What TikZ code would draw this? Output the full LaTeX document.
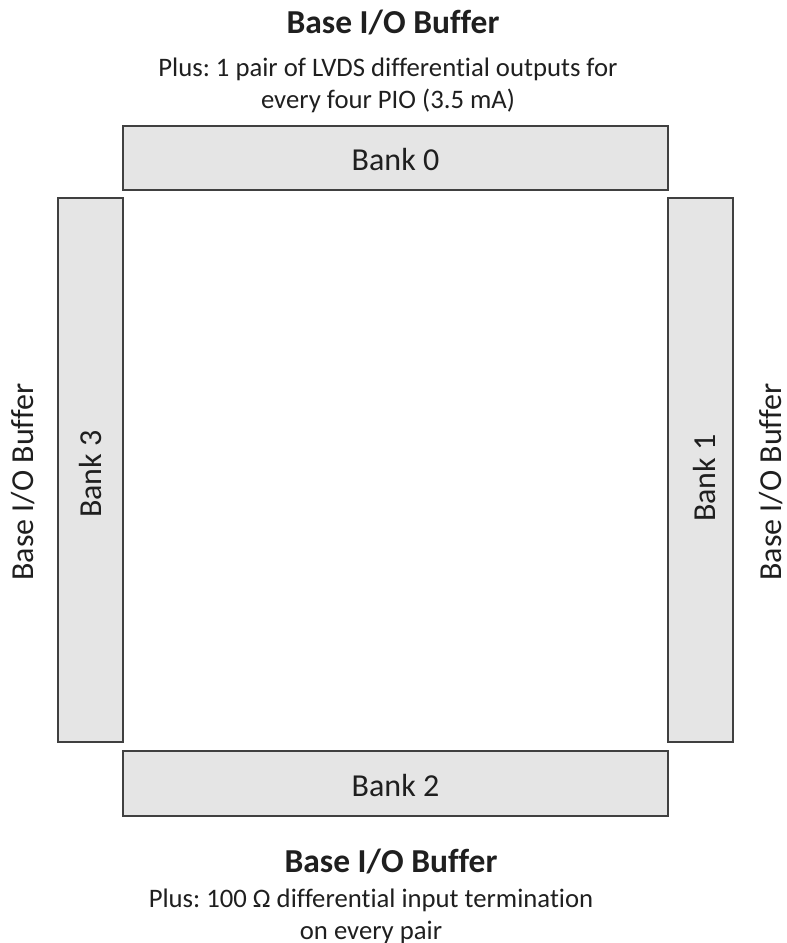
\documentclass[tikz,border=0pt]{standalone}
\usepackage{fontspec}
\setmainfont{Carlito}[Ligatures={NoCommon}]
\frenchspacing
\begin{document}
\begin{tikzpicture}[x=1pt,y=-1pt,
  bank/.style={draw=black!75,fill=black!10,line width=1.5pt},
  lbl/.style={text=black!88,font=\fontsize{32}{38}\selectfont},
  side/.style={lbl,rotate=90,inner sep=0pt},
  ttl/.style={text=black!88,font=\fontsize{33.5}{40}\selectfont\bfseries},
  note/.style={text=black!88,font=\fontsize{26.7}{32}\selectfont,align=center}]
\useasboundingbox (0,0) rectangle (787,943);
\draw[bank] (123,126) rectangle (668,190);
\node[lbl] (b0) at (395.5,160) {Bank 0};
\draw[bank] (58,198) rectangle (123,742);
\draw[bank] (668,198) rectangle (733,742);
\draw[bank] (123,751) rectangle (668,816);
\node[lbl] (b2) at (395.5,785) {Bank 2};
\node[lbl,rotate=90] (b3) at (91,474) {Bank 3};
\node[lbl,rotate=90] (b1) at (705,478) {Bank 1};
\node[ttl] (t0) at (393,23) {Base I/O Buffer};
\node[note] (n0) at (388,85) {Plus: 1 pair of LVDS differential outputs for\\every four PIO (3.5 mA)};
\node[side] (tl) at (23,482) {Base I/O Buffer};
\node[side] (tr) at (771,482) {Base I/O Buffer};
\node[ttl] (t2) at (391,861) {Base I/O Buffer};
\node[note] (n2) at (371,916) {Plus: 100 Ω differential input termination\\on every pair};
\end{tikzpicture}
\end{document}
